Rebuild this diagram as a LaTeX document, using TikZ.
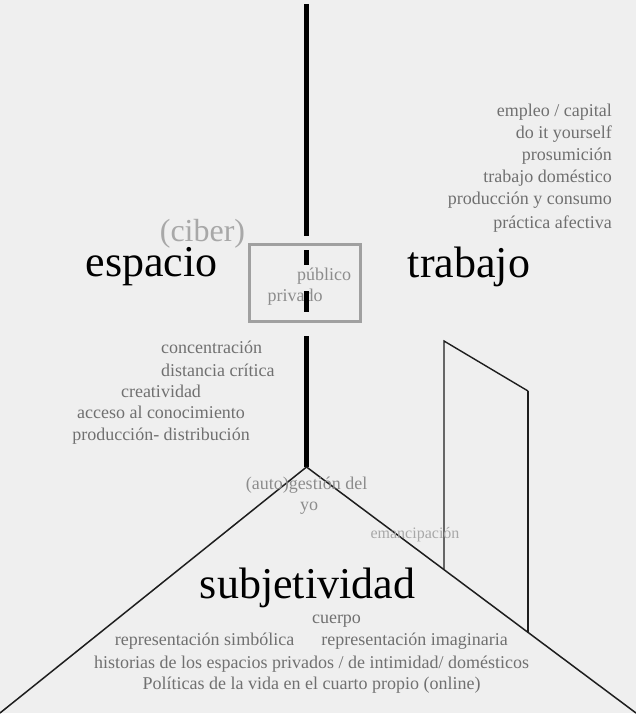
\documentclass[tikz,border=0pt]{standalone}
\usepackage{fontspec}
\setmainfont{Liberation Serif}
\definecolor{bgcol}{RGB}{239,239,239}
\definecolor{txtgray}{RGB}{112,112,112}
\definecolor{midgray}{RGB}{140,140,140}
\definecolor{lightgray}{RGB}{168,168,168}
\definecolor{boxgray}{RGB}{160,160,160}
\definecolor{linecol}{RGB}{30,30,30}
\begin{document}
\begin{tikzpicture}[x=1pt,y=-1pt,
  big/.style={font=\fontsize{44}{44}\selectfont, inner sep=0pt},
  small/.style={font=\fontsize{18}{18}\selectfont, text=txtgray, inner sep=0pt},
  axis/.style={line width=5.5pt, black},
  roof/.style={line width=1.5pt, linecol},
  doorline/.style={line width=1.4pt, linecol}]
\useasboundingbox (0,0) rectangle (636,719);
\fill[white] (0,0) rectangle (636,719);
\fill[bgcol] (0,0) rectangle (636,713);

% vertical axis segments
\coordinate (a1) at (306.5,4);
\coordinate (a2) at (306.5,236);
\coordinate (a3) at (306.5,250);
\coordinate (a4) at (306.5,265);
\coordinate (a5) at (306.5,291);
\coordinate (a6) at (306.5,312);
\coordinate (a7) at (306.5,336);
\coordinate (apex) at (306.5,467);
\draw[axis] (a1) -- (a2);
\draw[axis] (a3) -- (a4);
\draw[axis] (a7) -- (apex);

% box
\node[draw=boxgray, line width=3.5pt, minimum width=111pt, minimum height=77pt, inner sep=0pt] (box) at (305,283) {};
\node[small, text=midgray, anchor=base] (publico) at (324,280) {público};
\node[small, text=midgray, anchor=base] (privado) at (295,301) {privado};
\draw[axis] (a5) -- (a6);

% big words
\node[big, anchor=base] (espacio) at (151.5,276) {espacio};
\node[big, anchor=base] (trabajo) at (469,277) {trabajo};
\node[big, anchor=base] (subj) at (307.5,598) {subjetividad};
\node[font=\fontsize{32}{32}\selectfont, text=lightgray, inner sep=0pt, anchor=base] (ciber) at (202.5,241) {(ciber)};

% right group
\node[small, anchor=base east] (r1) at (612,117) {empleo / capital};
\node[small, anchor=base east] (r2) at (612,139) {do it yourself};
\node[small, anchor=base east] (r3) at (612,161) {prosumición};
\node[small, anchor=base east] (r4) at (612,183) {trabajo doméstico};
\node[small, anchor=base east] (r5) at (612,205) {producción y consumo};
\node[small, anchor=base east] (r6) at (612,228) {práctica afectiva};

% left group
\node[small, anchor=base west] (l1) at (161,353) {concentración};
\node[small, anchor=base west] (l2) at (161,376) {distancia crítica};
\node[small, anchor=base] (l3) at (161,397) {creatividad};
\node[small, anchor=base] (l4) at (161,418) {acceso al conocimiento};
\node[small, anchor=base] (l5) at (161,440) {producción- distribución};

% roof
\coordinate (bl) at (0,713);
\coordinate (br) at (636,713);
\draw[roof] (apex) -- (bl);
\draw[roof] (apex) -- (br);

% door
\coordinate (d1) at (444,569);
\coordinate (d2) at (444,341);
\coordinate (d3) at (528,391);
\coordinate (d4) at (528,633);
\draw[doorline] (d1) -- (d2) -- (d3);
\draw[line width=2.6pt, linecol] (d3) -- (d4);

\node[small, text=midgray, anchor=base] (auto) at (306.5,489) {(auto)gestión del};
\node[small, text=midgray, anchor=base] (yo) at (309,510) {yo};
\node[font=\fontsize{16}{16}\selectfont, text=lightgray, inner sep=0pt, anchor=base] (eman) at (415,538) {emancipación};

% bottom texts
\node[small, anchor=base] (b1) at (336.5,623) {cuerpo};
\node[small, anchor=base] (b2) at (204.5,645) {representación simbólica};
\node[small, anchor=base] (b3) at (414.5,645) {representación imaginaria};
\node[small, anchor=base] (b4) at (311.5,668) {historias de los espacios privados / de intimidad/ domésticos};
\node[small, anchor=base] (b5) at (311.5,689) {Políticas de la vida en el cuarto propio (online)};
\end{tikzpicture}
\end{document}
